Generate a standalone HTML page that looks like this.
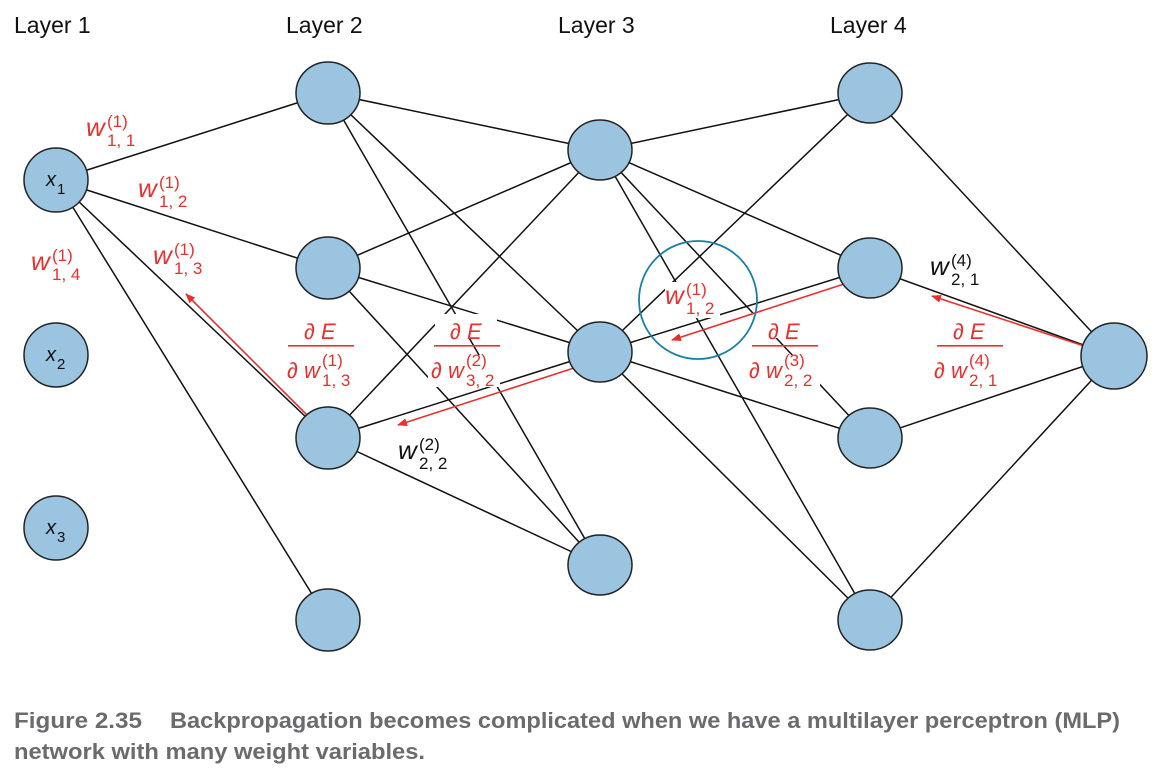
<!DOCTYPE html>
<html><head><meta charset="utf-8"><style>
html,body{margin:0;padding:0;background:#fff;}
svg{display:block;}
.t{font-family:"Liberation Sans",sans-serif;}
</style></head><body>
<svg width="1158" height="775" viewBox="0 0 1158 775" xmlns="http://www.w3.org/2000/svg" class="t">
<defs>
<marker id="ar" markerWidth="10" markerHeight="8" refX="9" refY="4" orient="auto" markerUnits="userSpaceOnUse">
<path d="M0,0 L10,4 L0,8 Z" fill="#e8312f"/>
</marker>
</defs>
<g font-size="23" fill="#111">
<text x="14" y="33">Layer 1</text>
<text x="286" y="33">Layer 2</text>
<text x="558" y="33">Layer 3</text>
<text x="830" y="33">Layer 4</text>
</g>
<g stroke="#111" stroke-width="1.5" fill="none">
<line x1="56" y1="180" x2="328" y2="93"/>
<line x1="56" y1="180" x2="328" y2="268"/>
<line x1="56" y1="180" x2="328" y2="438"/>
<line x1="56" y1="180" x2="328" y2="620"/>
<line x1="328" y1="93" x2="600" y2="150"/>
<line x1="328" y1="93" x2="600" y2="352"/>
<line x1="328" y1="93" x2="600" y2="565"/>
<line x1="328" y1="268" x2="600" y2="150"/>
<line x1="328" y1="268" x2="600" y2="352"/>
<line x1="328" y1="268" x2="600" y2="565"/>
<line x1="328" y1="438" x2="600" y2="150"/>
<line x1="328" y1="438" x2="600" y2="352"/>
<line x1="328" y1="438" x2="600" y2="565"/>
<line x1="600" y1="150" x2="870" y2="93"/>
<line x1="600" y1="150" x2="870" y2="268"/>
<line x1="600" y1="150" x2="870" y2="438"/>
<line x1="600" y1="150" x2="870" y2="620"/>
<line x1="600" y1="352" x2="870" y2="93"/>
<line x1="600" y1="352" x2="870" y2="268"/>
<line x1="600" y1="352" x2="870" y2="438"/>
<line x1="600" y1="352" x2="870" y2="620"/>
<line x1="870" y1="93" x2="1114" y2="356"/>
<line x1="870" y1="268" x2="1114" y2="356"/>
<line x1="870" y1="438" x2="1114" y2="356"/>
<line x1="870" y1="620" x2="1114" y2="356"/>
</g>
<g fill="#fff">
<rect x="435" y="314" width="62" height="24"/>
<rect x="428" y="355" width="72" height="32"/>
<rect x="752" y="314" width="62" height="24"/>
<rect x="748" y="355" width="72" height="32"/>
<rect x="665" y="282" width="55" height="36"/>
<rect x="286" y="355" width="70" height="32"/>
</g>
<g stroke="#e8312f" stroke-width="1.6" fill="none" marker-end="url(#ar)">
<line x1="314" y1="422" x2="186" y2="294"/>
<line x1="574" y1="368" x2="398" y2="425"/>
<line x1="844" y1="284" x2="672" y2="340"/>
<line x1="1084" y1="346" x2="932" y2="296"/>
</g>
<g fill="#9ac4e0" stroke="#222" stroke-width="1.5">
<ellipse cx="56" cy="180" rx="32" ry="32"/>
<ellipse cx="56" cy="355" rx="32" ry="32"/>
<ellipse cx="56" cy="528" rx="32" ry="32"/>
<ellipse cx="328" cy="93" rx="32" ry="31"/>
<ellipse cx="328" cy="268" rx="32" ry="31"/>
<ellipse cx="328" cy="438" rx="32" ry="31"/>
<ellipse cx="328" cy="620" rx="32" ry="31"/>
<ellipse cx="600" cy="150" rx="32" ry="30"/>
<ellipse cx="600" cy="352" rx="32" ry="30"/>
<ellipse cx="600" cy="565" rx="32" ry="30"/>
<ellipse cx="870" cy="93" rx="32" ry="30"/>
<ellipse cx="870" cy="268" rx="32" ry="30"/>
<ellipse cx="870" cy="438" rx="32" ry="30"/>
<ellipse cx="870" cy="620" rx="32" ry="30"/>
<ellipse cx="1114" cy="356" rx="33" ry="33"/>
</g>
<circle cx="698" cy="300" r="59" fill="none" stroke="#1a7fa8" stroke-width="1.8"/>
<g fill="#111">
<text x="46" y="186" font-size="20" font-style="italic">x</text><text x="57" y="194" font-size="15">1</text>
<text x="46" y="361" font-size="20" font-style="italic">x</text><text x="57" y="369" font-size="15">2</text>
<text x="46" y="534" font-size="20" font-style="italic">x</text><text x="57" y="542" font-size="15">3</text>
</g>
<g fill="#e8312f">
<text x="86" y="136" font-size="26" font-style="italic">w</text><text x="107" y="127" font-size="17">(1)</text><text x="107" y="146" font-size="17">1, 1</text>
<text x="138" y="197" font-size="26" font-style="italic">w</text><text x="159" y="188" font-size="17">(1)</text><text x="159" y="207" font-size="17">1, 2</text>
<text x="31" y="270" font-size="26" font-style="italic">w</text><text x="52" y="261" font-size="17">(1)</text><text x="52" y="280" font-size="17">1, 4</text>
<text x="153" y="264" font-size="26" font-style="italic">w</text><text x="174" y="255" font-size="17">(1)</text><text x="174" y="274" font-size="17">1, 3</text>
<text x="665" y="304" font-size="26" font-style="italic">w</text><text x="686" y="295" font-size="17">(1)</text><text x="686" y="314" font-size="17">1, 2</text>
</g>
<g fill="#e8312f" stroke="none">
<text x="304" y="339" font-size="22" font-style="italic">∂ E</text>
<rect x="288" y="345" width="66" height="1.6"/>
<text x="287" y="378" font-size="22" font-style="italic">∂ w</text><text x="322" y="366" font-size="17">(1)</text><text x="322" y="386" font-size="17">1, 3</text>

<text x="450" y="339" font-size="22" font-style="italic">∂ E</text>
<rect x="434" y="345" width="66" height="1.6"/>
<text x="431" y="378" font-size="22" font-style="italic">∂ w</text><text x="466" y="366" font-size="17">(2)</text><text x="466" y="386" font-size="17">3, 2</text>

<text x="768" y="339" font-size="22" font-style="italic">∂ E</text>
<rect x="752" y="345" width="66" height="1.6"/>
<text x="749" y="378" font-size="22" font-style="italic">∂ w</text><text x="784" y="366" font-size="17">(3)</text><text x="784" y="386" font-size="17">2, 2</text>

<text x="953" y="339" font-size="22" font-style="italic">∂ E</text>
<rect x="937" y="345" width="66" height="1.6"/>
<text x="934" y="378" font-size="22" font-style="italic">∂ w</text><text x="969" y="366" font-size="17">(4)</text><text x="969" y="386" font-size="17">2, 1</text>
</g>
<g fill="#111">
<text x="930" y="275" font-size="26" font-style="italic">w</text><text x="951" y="266" font-size="17">(4)</text><text x="951" y="285" font-size="17">2, 1</text>
<text x="398" y="459" font-size="26" font-style="italic">w</text><text x="419" y="450" font-size="17">(2)</text><text x="419" y="469" font-size="17">2, 2</text>
</g>
<g font-size="22" font-weight="bold" fill="#6a6b6e">
<text x="14" y="728" textLength="128" lengthAdjust="spacingAndGlyphs">Figure 2.35</text>
<text x="170" y="728" textLength="950" lengthAdjust="spacingAndGlyphs">Backpropagation becomes complicated when we have a multilayer perceptron (MLP)</text>
<text x="14" y="759" textLength="411" lengthAdjust="spacingAndGlyphs">network with many weight variables.</text>
</g>
</svg>
</body></html>
